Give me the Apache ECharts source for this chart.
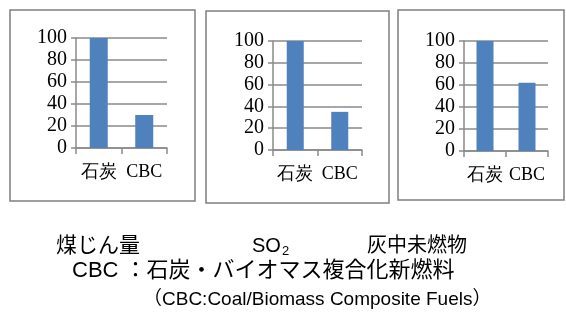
<!DOCTYPE html>
<html>
<head>
<meta charset="utf-8">
<script src="https://cdn.jsdelivr.net/npm/echarts@6/dist/echarts.min.js"></script>
<style>
  html, body { margin: 0; padding: 0; background: #fff; }
  #chart { width: 566px; height: 324px; }
</style>
</head>
<body>
<div id="chart"></div>
<script>
// Relative emission indices (coal = 100)
const categories = ['石炭', 'CBC'];
const dustValues = [100, 30];      // 煤じん量
const so2Values = [100, 35];       // SO2
const unburnedValues = [100, 62];  // 灰中未燃物
const yTicks = [0, 20, 40, 60, 80, 100];

const panelTitles = ['煤じん量', 'SO2', '灰中未燃物'];

const chart = echarts.init(document.getElementById('chart'), null, { renderer: 'canvas' });

const grey = '#8a8a8a';
const barColor = '#4f81bd';
const serif = '"Liberation Serif", "Times New Roman", serif';
const sans = 'Liberation Sans, Noto Sans CJK JP, sans-serif';

const grids = [
  { left: 76, top: 38, width: 91, height: 110 },
  { left: 273, top: 41, width: 89, height: 109 },
  { left: 464, top: 41, width: 84, height: 110 }
];

function xAxisFor(i) {
  return {
    type: 'category',
    gridIndex: i,
    data: categories,
    axisLine: { lineStyle: { color: grey, width: 1.5 } },
    axisTick: { show: true, length: 6, lineStyle: { color: grey, width: 1.5 } },
    axisLabel: { interval: 0, color: '#000', fontFamily: serif, fontSize: 18, margin: 15 }
  };
}

function yAxisFor(i) {
  return {
    type: 'value',
    gridIndex: i,
    min: yTicks[0],
    max: yTicks[yTicks.length - 1],
    interval: yTicks[1] - yTicks[0],
    axisLine: { show: true, lineStyle: { color: grey, width: 1.5 } },
    axisTick: { show: true, length: 5, lineStyle: { color: grey, width: 1.5 } },
    splitLine: { show: true, lineStyle: { color: grey, width: 1.5 } },
    axisLabel: { color: '#000', fontFamily: serif, fontSize: 20, margin: 9 }
  };
}

const seriesData = [dustValues, so2Values, unburnedValues];
const barWidths = [18, 17, 17];

const option = {
  animation: false,
  backgroundColor: '#fff',
  grid: grids,
  xAxis: grids.map((g, i) => xAxisFor(i)),
  yAxis: grids.map((g, i) => yAxisFor(i)),
  series: seriesData.map((vals, i) => ({
    type: 'bar',
    name: panelTitles[i],
    xAxisIndex: i,
    yAxisIndex: i,
    data: vals,
    barWidth: barWidths[i],
    itemStyle: { color: barColor }
  })),
  graphic: [
    // panel frames
    { type: 'rect', shape: { x: 10, y: 10, width: 185, height: 191 }, style: { fill: 'none', stroke: '#7f7f7f', lineWidth: 1.5 } },
    { type: 'rect', shape: { x: 206, y: 11, width: 183, height: 192 }, style: { fill: 'none', stroke: '#7f7f7f', lineWidth: 1.5 } },
    { type: 'rect', shape: { x: 398, y: 10, width: 166, height: 190 }, style: { fill: 'none', stroke: '#7f7f7f', lineWidth: 1.5 } },
    // panel captions
    { type: 'text', left: 56, top: 236, style: { text: panelTitles[0], font: '21px ' + sans, fill: '#000' } },
    { type: 'text', left: 252, top: 236, style: {
        text: '{m|SO}{s|2}',
        rich: {
          m: { font: '20px ' + sans, fill: '#000' },
          s: { font: '13px ' + sans, fill: '#000', padding: [11, 0, 0, 1] }
        }
      } },
    { type: 'text', left: 367, top: 236, style: { text: panelTitles[2], font: '20px ' + sans, fill: '#000' } },
    // footnotes
    { type: 'text', left: 72, top: 260, style: { text: 'CBC ：石炭・バイオマス複合化新燃料', font: '22px ' + sans, fill: '#000' } },
    { type: 'text', left: 143, top: 290, style: { text: '（CBC:Coal/Biomass Composite Fuels）', font: '19px ' + sans, fill: '#000' } }
  ]
};

chart.setOption(option);
</script>
</body>
</html>
